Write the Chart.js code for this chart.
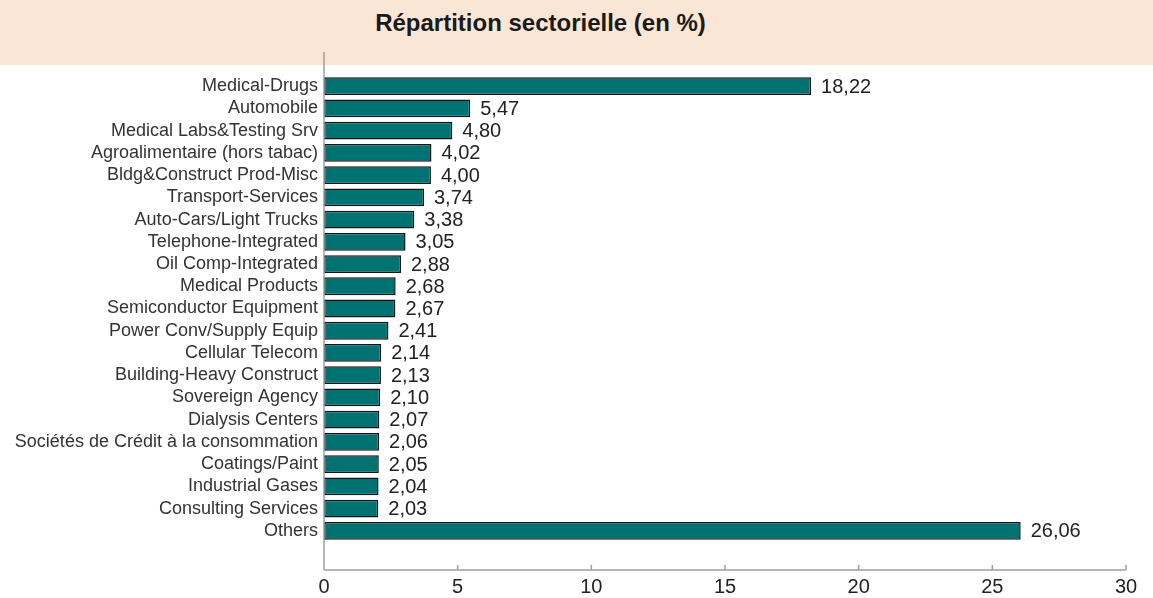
<!DOCTYPE html>
<html lang="fr">
<head>
<meta charset="utf-8">
<title>Répartition sectorielle</title>
<script src="https://cdn.jsdelivr.net/npm/chart.js@4/dist/chart.umd.min.js"></script>
<style>
  html, body { margin: 0; padding: 0; background: #fff; }
  #wrap { position: relative; width: 1153px; height: 598px; overflow: hidden; }
  #band { position: absolute; left: 0; top: 0; width: 1153px; height: 65px; background: #fae6d5; }
  #title { position: absolute; left: 0; width: 1081px; top: 9px; text-align: center;
           font: bold 24px "Liberation Sans", Arial, sans-serif; color: #1a1a1a; }
  #box { position: absolute; left: 0; top: 0; width: 1153px; height: 598px; }
</style>
</head>
<body>
<div id="wrap">
  <div id="band"></div>
  <div id="title">Répartition sectorielle (en %)</div>
  <div id="box"><canvas id="chart"></canvas></div>
</div>
<script>
// sectors and weights (%)
const sectors = [
  'Medical-Drugs', 'Automobile', 'Medical Labs&Testing Srv', 'Agroalimentaire (hors tabac)',
  'Bldg&Construct Prod-Misc', 'Transport-Services', 'Auto-Cars/Light Trucks',
  'Telephone-Integrated', 'Oil Comp-Integrated', 'Medical Products', 'Semiconductor Equipment',
  'Power Conv/Supply Equip', 'Cellular Telecom', 'Building-Heavy Construct', 'Sovereign Agency',
  'Dialysis Centers', 'Sociétés de Crédit à la consommation', 'Coatings/Paint',
  'Industrial Gases', 'Consulting Services', 'Others'
];
const weights = [
  18.22, 5.47, 4.80, 4.02, 4.00, 3.74, 3.38, 3.05, 2.88, 2.68, 2.67,
  2.41, 2.14, 2.13, 2.10, 2.07, 2.06, 2.05, 2.04, 2.03, 26.06
];
const xTicks = [0, 5, 10, 15, 20, 25, 30];

const FONT = '"Liberation Sans", Arial, sans-serif';

// axis lines, tick marks and value labels drawn by hand
const decor = {
  id: 'decor',
  afterDraw(chart) {
    const ctx = chart.ctx;
    const area = chart.chartArea;
    const xs = chart.scales.x;
    const axisY = 570;
    ctx.save();
    ctx.strokeStyle = '#a0a0a0';
    ctx.lineWidth = 1.5;
    ctx.beginPath();
    ctx.moveTo(area.left, 52);
    ctx.lineTo(area.left, 565);
    ctx.moveTo(xs.getPixelForValue(xTicks[0]), axisY);
    ctx.lineTo(xs.getPixelForValue(xTicks[xTicks.length - 1]), axisY);
    xTicks.forEach(t => {
      const px = xs.getPixelForValue(t);
      ctx.moveTo(px, axisY);
      ctx.lineTo(px, axisY - 5);
    });
    ctx.stroke();

    // values next to the bars
    ctx.fillStyle = '#222';
    ctx.font = '20px ' + FONT;
    ctx.textAlign = 'left';
    ctx.textBaseline = 'middle';
    const meta = chart.getDatasetMeta(0);
    meta.data.forEach((bar, i) => {
      ctx.fillText(weights[i].toFixed(2).replace('.', ','), bar.x + 10, bar.y + 1);
    });
    ctx.restore();
  }
};

new Chart(document.getElementById('chart'), {
  type: 'bar',
  data: {
    labels: sectors,
    datasets: [{
      data: weights,
      backgroundColor: '#007272',
      borderColor: '#151515',
      borderWidth: 1.5,
      borderSkipped: false,
      categoryPercentage: 1,
      barPercentage: 0.8
    }]
  },
  options: {
    indexAxis: 'y',
    responsive: true,
    maintainAspectRatio: false,
    animation: false,
    layout: { padding: { top: 75, right: 27, left: 0, bottom: 0 } },
    plugins: {
      legend: { display: false },
      tooltip: { enabled: false }
    },
    scales: {
      x: {
        min: 0,
        max: 30,
        afterBuildTicks(scale) { scale.ticks = xTicks.map(v => ({ value: v })); },
        afterFit(scale) { scale.height = 56; scale.paddingRight = 0; },
        grid: { display: false, drawTicks: false },
        border: { display: false },
        ticks: {
          color: '#222',
          font: { family: FONT, size: 20 },
          padding: 33,
          maxRotation: 0
        }
      },
      y: {
        afterFit(scale) { scale.width = 324; },
        grid: { display: false, drawTicks: false },
        border: { display: false },
        ticks: {
          color: '#333',
          font: { family: FONT, size: 18 },
          padding: 6,
          autoSkip: false
        }
      }
    }
  },
  plugins: [decor]
});
</script>
</body>
</html>
